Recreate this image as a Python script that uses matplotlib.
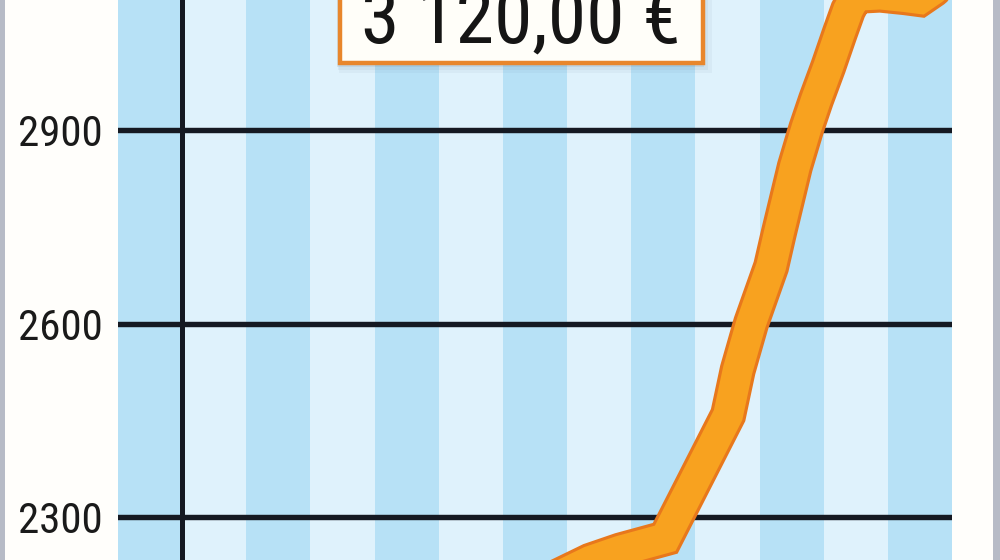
import matplotlib
matplotlib.use("Agg")
import numpy as np
import matplotlib.pyplot as plt
import matplotlib.patheffects as pe
from matplotlib.patches import Rectangle, PathPatch
from matplotlib.path import Path
from matplotlib import font_manager

# ---------------- data ----------------
months_pos = [6.0, 6.78, 7.36, 7.83, 8.53, 9.51, 9.66, 9.87, 10.18, 10.30,
              10.55, 10.73, 10.88, 11.07, 11.25, 11.38, 11.50, 11.88, 12.27,
              12.50, 12.72]
price = [2172, 2204, 2232, 2248, 2267, 2458, 2528, 2601, 2688, 2740,
         2843, 2903, 2947, 2998, 3050, 3086, 3108, 3110, 3106,
         3103, 3118]
y_ticks = [2300, 2600, 2900]
y_tick_labels = ["2300", "2600", "2900"]
n_stripes = 13
label_text = "3 120,00 €"

# ---------------- fonts ----------------
available = {f.name for f in font_manager.fontManager.ttflist}
font_choice = "DejaVu Sans"
for cand in ["Liberation Sans Narrow", "Roboto Condensed", "Open Sans Condensed"]:
    if cand in available:
        font_choice = cand
        break

W, H = 1000, 560
fig = plt.figure(figsize=(W / 100, H / 100), dpi=100)
fig.patch.set_facecolor("#FFFEFB")

# side grey bars
fig.patches.append(Rectangle((0, 0), 5 / W, 1, transform=fig.transFigure,
                             facecolor="#B7BBC6", edgecolor="none", zorder=0))
fig.patches.append(Rectangle((993 / W, 0), 7 / W, 1, transform=fig.transFigure,
                             facecolor="#B7BBC6", edgecolor="none", zorder=0))

left_px, right_px = 118, 952
ax = fig.add_axes([left_px / W, 0, (right_px - left_px) / W, 1])
ax.set_xlim(0, n_stripes)
# y mapping: 2900 at y=130px, 2600 at y=323px (from top)
px_per_unit = 193.5 / 300.0
ymax = 2900 + 130 / px_per_unit
ymin = 2900 - (H - 130) / px_per_unit
ax.set_ylim(ymin, ymax)

for i in range(n_stripes):
    ax.axvspan(i, i + 1, facecolor="#B7E1F6" if i % 2 == 0 else "#DFF2FC",
               edgecolor="none", zorder=0)

for yv in y_ticks:
    ax.axhline(yv, color="#151922", lw=3.9, zorder=2)
ax.axvline(1.0, color="#151922", lw=3.6, zorder=2)

ax.set_yticks(y_ticks)
ax.set_yticklabels(y_tick_labels, fontsize=31, family=[font_choice, "DejaVu Sans"],
                   color="#1A1A1A")
ax.tick_params(axis="y", length=0, pad=11)
ax.set_xticks([])
for s in ax.spines.values():
    s.set_visible(False)

# price line (drawn as a path patch with an invisible face so thick strokes whose
# centre lies just above the canvas edge are still rendered)
verts = np.column_stack([months_pos, price])
codes = [Path.MOVETO] + [Path.LINETO] * (len(months_pos) - 1)
line = PathPatch(Path(verts, codes), facecolor=(1, 1, 1, 0.002),
                 edgecolor="#F8A21F", lw=21.5, joinstyle="miter",
                 capstyle="round", zorder=5, clip_on=False,
                 path_effects=[pe.Stroke(linewidth=26, foreground="#E8781C"),
                               pe.Normal()])
ax.add_patch(line)

# label box with shadow
bx0, bx1, by1 = 340, 703, 63
for k, a in [(10, 0.06), (7, 0.08), (4, 0.12)]:
    fig.patches.append(Rectangle(((bx0 - 4 + k * 0.3) / W, 1 - (by1 + k) / H),
                                 (bx1 - bx0 + k) / W, (by1 + k + 10) / H,
                                 transform=fig.transFigure, facecolor="#5A7A95",
                                 edgecolor="none", alpha=a, zorder=8))
box = Rectangle((bx0 / W, 1 - by1 / H), (bx1 - bx0) / W, (by1 + 20) / H,
                transform=fig.transFigure, facecolor="#FFFEF9",
                edgecolor="#E8862C", lw=3.2, zorder=9)
fig.patches.append(box)
fig.text(521 / W, 1 - 43 / H, label_text, ha="center", va="baseline",
         fontsize=56, family=[font_choice, "DejaVu Sans"], color="#151515", zorder=10)

fig.savefig("out.png", dpi=100)
